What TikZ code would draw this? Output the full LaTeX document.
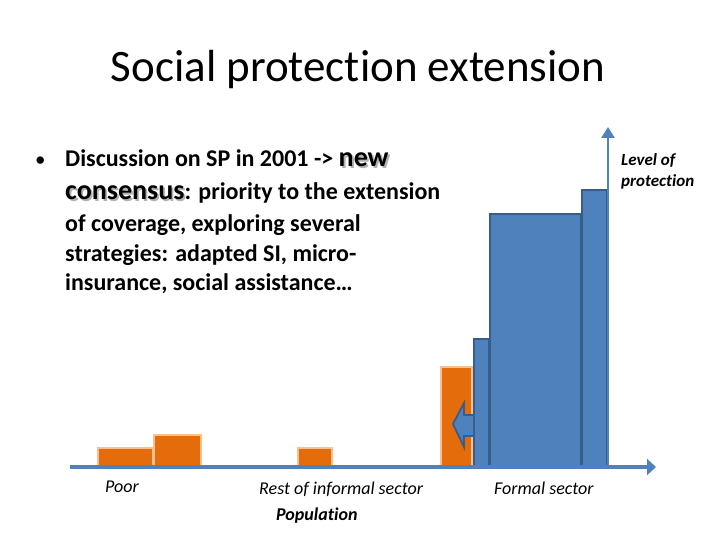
\documentclass[tikz,border=0pt]{standalone}
\usepackage{fontspec}
\setmainfont[Ligatures={NoCommon}]{Carlito}
\usetikzlibrary{arrows.meta}
\definecolor{sblue}{HTML}{4F81BD}
\definecolor{dblue}{HTML}{385D8A}
\definecolor{sorange}{HTML}{E46C0A}
\definecolor{lorange}{HTML}{FAC090}
\newcommand\shtext[1]{\makebox[0pt][l]{\raisebox{-1.8pt}{\hspace{1.8pt}\textcolor{black!30}{#1}}}#1}
\begin{document}
\begin{tikzpicture}[x=1pt,y=-1pt,
  body/.style={anchor=base west,inner sep=0pt,font=\fontsize{24}{27}\selectfont\bfseries},
  lab/.style={anchor=base west,inner sep=0pt,font=\fontsize{18}{21}\selectfont\itshape},
  obar/.style={fill=sorange,draw=lorange,line width=2.5pt},
  bbar/.style={fill=sblue,draw=dblue,line width=2.2pt},
  axis/.style={draw=sblue,line width=4.5pt,-{Triangle[width=16pt,length=9pt]}}]
\useasboundingbox (0,0) rectangle (720,540);
\node[anchor=base,inner sep=0pt,font=\fontsize{45}{54}\selectfont] (title) at (358,82) {Social protection extension};
\node[anchor=base west,inner sep=0pt,font=\fontsize{21}{25}\selectfont] (bul) at (35,167) {•};
\node[body] (l1) at (65,167) {Discussion on SP in 2001 -> {\fontsize{28}{30}\selectfont\shtext{new}}};
\node[body] (l2) at (65,200) {{\fontsize{28}{30}\selectfont\shtext{consensus}}: priority to the extension};
\node[body] (l3) at (65,231) {of coverage, exploring several};
\node[body] (l4) at (65,261) {strategies: adapted SI, micro-};
\node[body] (l5) at (65,290) {insurance, social assistance…};
% orange bars
\draw[obar] (98,466) rectangle (153,448);
\draw[obar] (154,466) rectangle (201,435);
\draw[obar] (298,466) rectangle (332,448);
\draw[obar] (441,466) rectangle (472,367);
% blue bars
\draw[bbar] (474,466) rectangle (489,339);
\draw[bbar] (490,466) rectangle (581,214);
\draw[bbar] (582,466) rectangle (607,190);
% small left arrow
\draw[fill=sblue,draw=dblue,line width=1.8pt,line join=miter]
  (473,415) -- (464,415) -- (464,403) -- (453,424) -- (464,447) -- (464,436) -- (473,436);
% axes
\coordinate (o) at (70,467);
\coordinate (xe) at (656,467);
\coordinate (yb) at (608,467);
\coordinate (ye) at (608,127);
\draw[draw=sblue,line width=2.6pt,-{Triangle[width=13pt,length=11pt]}] (yb) -- (ye);
\draw[axis] (o) -- (xe);
% labels
\node[lab] (poor) at (105,492) {Poor};
\node[lab] (rest) at (259,494) {Rest of informal sector};
\node[lab,font=\fontsize{18}{21}\selectfont\bfseries\itshape] (pop) at (276,520) {Population};
\node[lab] (formal) at (494,494) {Formal sector};
\node[anchor=base west,inner sep=0pt,align=left,font=\fontsize{17}{21}\selectfont\bfseries\itshape] (lev) at (621,187) {Level of\\protection};
\end{tikzpicture}
\end{document}
